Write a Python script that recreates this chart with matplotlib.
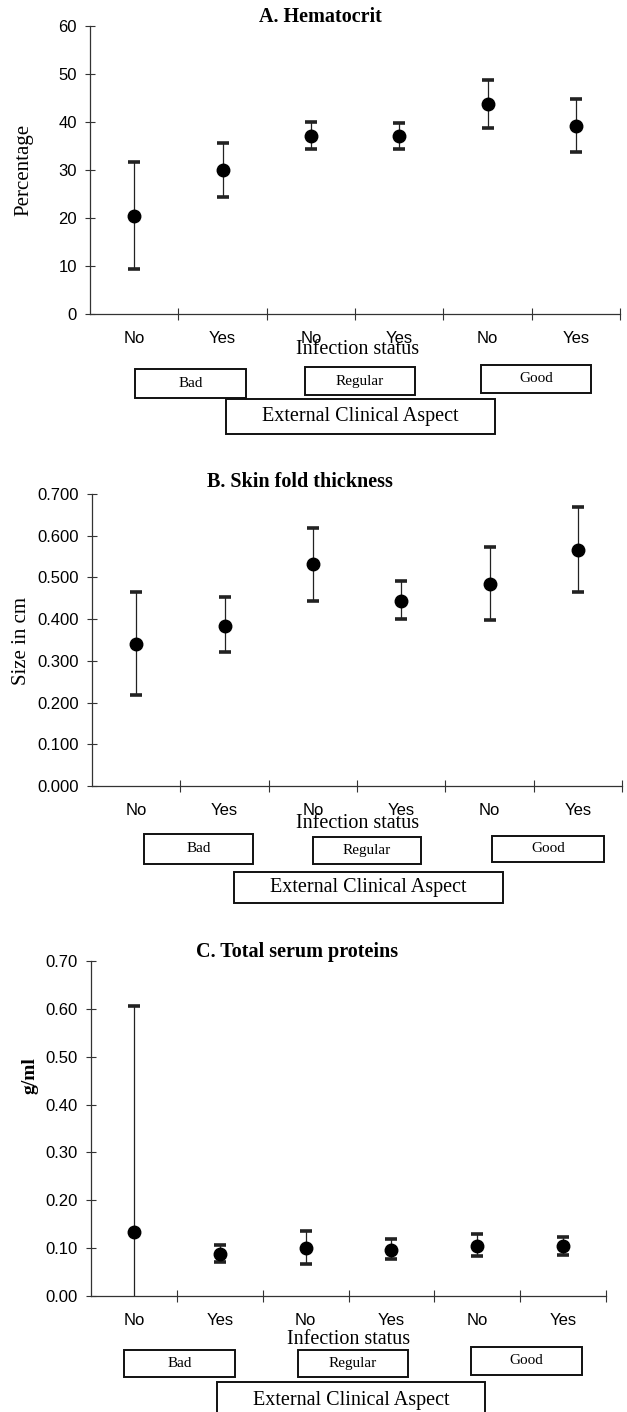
import matplotlib
matplotlib.use("Agg")
import matplotlib.pyplot as plt
from matplotlib.patches import Rectangle
from matplotlib.ticker import FormatStrFormatter, FixedLocator
import numpy as np

# ---------------- data ----------------
infection = ["No", "Yes", "No", "Yes", "No", "Yes"]
aspect_groups = ["Bad", "Regular", "Good"]

hct_mean = [20.4, 30.0, 37.0, 37.0, 43.7, 39.2]
hct_low = [9.3, 24.4, 34.3, 34.4, 38.8, 33.8]
hct_high = [31.6, 35.6, 40.0, 39.7, 48.7, 44.8]

skin_mean = [0.340, 0.384, 0.532, 0.444, 0.484, 0.566]
skin_low = [0.217, 0.322, 0.444, 0.400, 0.398, 0.464]
skin_high = [0.466, 0.452, 0.619, 0.492, 0.574, 0.668]

prot_mean = [0.133, 0.088, 0.100, 0.097, 0.105, 0.104]
prot_low = [-0.342, 0.071, 0.067, 0.078, 0.083, 0.086]
prot_high = [0.607, 0.107, 0.136, 0.119, 0.130, 0.124]

W, H = 627, 1412
fig = plt.figure(figsize=(W / 100, H / 100), dpi=100)

SANS = "Liberation Sans"
SERIF = "Liberation Serif"
TICK_SIZE = 12


def fx(x):
    return x / W


def fy(y):
    return 1 - y / H


def box(x0, y0, x1, y1, text, size):
    r = Rectangle((fx(x0), fy(y1)), fx(x1) - fx(x0), fy(y0) - fy(y1),
                  transform=fig.transFigure, fill=False, lw=1.4,
                  edgecolor="#111111")
    fig.add_artist(r)
    fig.text((fx(x0) + fx(x1)) / 2, (fy(y0) + fy(y1)) / 2, text,
             ha="center", va="center", family=SERIF, fontsize=size)


def panel(left, right, top, bottom, means, low, high, ymax, fmt, yticks,
          title, title_xy, ylabel, ylabel_xy, ylabel_bold, ylabel_size,
          infx_y, boxes, eca):
    ax = fig.add_axes([fx(left), fy(bottom), fx(right) - fx(left),
                       fy(top) - fy(bottom)])
    x = np.arange(len(means)) + 0.5
    m = np.array(means)
    lo = np.array(low)
    hi = np.array(high)
    ax.errorbar(x, m, yerr=[m - lo, hi - m], fmt="o", color="black",
                ms=9, ecolor="#222222", elinewidth=0.9, capsize=4.5,
                capthick=2.6, zorder=3)
    ax.set_xlim(0, len(means))
    ax.set_ylim(0, ymax)
    ax.set_yticks(yticks)
    ax.yaxis.set_major_formatter(FormatStrFormatter(fmt))
    for s in ["top", "right"]:
        ax.spines[s].set_visible(False)
    for s in ["left", "bottom"]:
        ax.spines[s].set_linewidth(0.9)
        ax.spines[s].set_color("#333333")
    ax.xaxis.set_major_locator(FixedLocator(np.arange(1, len(means) + 1)))
    ax.set_xticklabels([])
    ax.set_xticks(x, infection, minor=True)
    ax.tick_params(axis="x", which="major", direction="inout", length=8,
                   width=0.8, color="#333333")
    ax.tick_params(axis="x", which="minor", length=0, pad=12)
    for lab in ax.get_xticklabels(minor=True):
        lab.set_family(SANS)
        lab.set_fontsize(TICK_SIZE)
    ax.tick_params(axis="y", direction="inout", length=7, width=0.8,
                   color="#333333", pad=6)
    for lab in ax.get_yticklabels():
        lab.set_family(SANS)
        lab.set_fontsize(TICK_SIZE)
    ax.patch.set_alpha(0)
    fig.text(fx(title_xy[0]), fy(title_xy[1]), title, ha="center",
             va="center", family=SERIF, fontsize=14.5, fontweight="bold")
    fig.text(fx(ylabel_xy[0]), fy(ylabel_xy[1]), ylabel, ha="center",
             va="center", rotation=90, family=SERIF, fontsize=ylabel_size,
             fontweight="bold" if ylabel_bold else "normal")
    fig.text(fx(infx_y[0]), fy(infx_y[1]), "Infection status", ha="center",
             va="center", family=SERIF, fontsize=14.5)
    for (bx, name) in zip(boxes, aspect_groups):
        box(*bx, name, 11)
    box(*eca, "External Clinical Aspect", 14.5)
    return ax


axA = panel(90, 620, 26, 314, hct_mean, hct_low, hct_high, 60, "%d",
            np.arange(0, 61, 10),
            "A. Hematocrit", (320, 17), "Percentage", (24, 170), False, 15,
            (358, 349),
            [(135, 369, 246, 398), (305, 367, 415, 395), (481, 365, 591, 393)],
            (226, 399, 495, 434))

axB = panel(92, 622, 494, 786, skin_mean, skin_low, skin_high, 0.7, "%.3f",
            np.arange(0, 0.71, 0.1),
            "B. Skin fold thickness", (300, 482), "Size in cm", (22, 641),
            False, 15, (358, 823),
            [(144, 834, 253, 864), (313, 837, 421, 864), (492, 836, 604, 862)],
            (234, 872, 503, 903))

axC = panel(91, 606, 961, 1296, prot_mean, prot_low, prot_high, 0.7, "%.2f",
            np.arange(0, 0.71, 0.1),
            "C. Total serum proteins", (297, 952), "g/ml", (30, 1076),
            True, 14, (349, 1340),
            [(124, 1350, 235, 1377), (298, 1350, 408, 1377), (471, 1347, 582, 1375)],
            (217, 1382, 485, 1420))

fig.savefig("out.png", dpi=100)
